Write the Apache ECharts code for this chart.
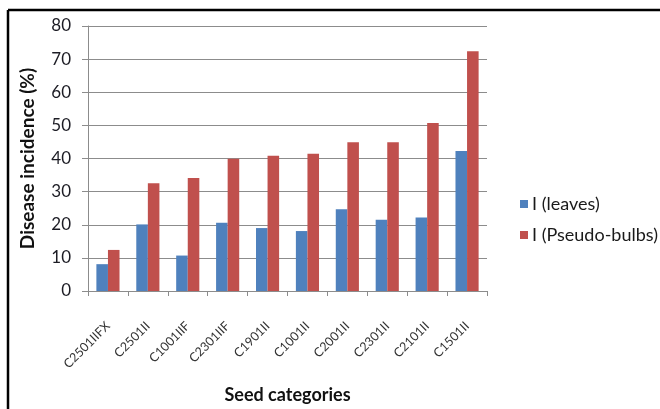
<!DOCTYPE html>
<html>
<head>
<meta charset="utf-8">
<script src="https://cdn.jsdelivr.net/npm/echarts@6/dist/echarts.min.js"></script>
<style>
  html, body { margin: 0; padding: 0; background: #ffffff; }
  #chart { width: 660px; height: 409px; }
</style>
</head>
<body>
<div id="chart"></div>
<script>
// Seed categories along the x axis
const categories = ['C2501IIFX', 'C2501II', 'C1001IIF', 'C2301IIF', 'C1901II',
                    'C1001II', 'C2001II', 'C2301II', 'C2101II', 'C1501II'];
// Disease incidence (%) on leaves
const leaves = [8.1, 20.1, 10.7, 20.6, 19.0, 18.1, 24.7, 21.5, 22.2, 42.3];
// Disease incidence (%) on pseudo-bulbs
const pseudoBulbs = [12.4, 32.5, 34.1, 39.9, 40.8, 41.4, 44.9, 44.9, 50.7, 72.4];
// Y axis range
const yMin = 0, yMax = 80, yStep = 10;

const FONT = 'Lato, "Open Sans", sans-serif';
const chart = echarts.init(document.getElementById('chart'), null, { renderer: 'canvas' });

chart.setOption({
  animation: false,
  backgroundColor: '#ffffff',
  textStyle: { fontFamily: FONT },
  grid: { left: 88, right: 173, top: 26, bottom: 118, containLabel: false },
  legend: {
    orient: 'vertical',
    left: 515,
    top: 190,
    itemWidth: 8,
    itemHeight: 8,
    itemGap: 13,
    icon: 'rect',
    textStyle: { fontFamily: FONT, fontSize: 18, color: '#1a1a1a', padding: [0, 0, 0, -1] },
    data: ['I (leaves)', 'I (Pseudo-bulbs)']
  },
  xAxis: {
    type: 'category',
    data: categories,
    name: 'Seed categories',
    nameLocation: 'middle',
    nameGap: 95,
    nameTextStyle: { fontFamily: FONT, fontSize: 18, fontWeight: 'bold', color: '#111111' },
    axisLine: { lineStyle: { color: '#8c8c8c', width: 1 } },
    axisTick: { show: true, alignWithLabel: false, length: 5, lineStyle: { color: '#8c8c8c' } },
    axisLabel: {
      rotate: 45,
      interval: 0,
      margin: 33,
      fontFamily: FONT,
      fontSize: 12.5,
      color: '#333333'
    },
    splitLine: { show: false }
  },
  yAxis: {
    type: 'value',
    min: yMin,
    max: yMax,
    interval: yStep,
    name: 'Disease incidence (%)',
    nameLocation: 'middle',
    nameGap: 51,
    nameRotate: 90,
    nameTextStyle: { fontFamily: FONT, fontSize: 19, fontWeight: 'bold', color: '#111111' },
    axisLine: { show: true, lineStyle: { color: '#8c8c8c', width: 1 } },
    axisTick: { show: true, length: 6, lineStyle: { color: '#8c8c8c' } },
    axisLabel: { fontFamily: FONT, fontSize: 17, color: '#1c1c24', margin: 17 },
    splitLine: { show: true, lineStyle: { color: '#8c8c8c', width: 1 } }
  },
  series: [
    {
      name: 'I (leaves)',
      type: 'bar',
      data: leaves,
      itemStyle: { color: '#4F81BD' },
      barGap: '0%',
      barCategoryGap: '42%'
    },
    {
      name: 'I (Pseudo-bulbs)',
      type: 'bar',
      data: pseudoBulbs,
      itemStyle: { color: '#C0504D' },
      barGap: '0%',
      barCategoryGap: '42%'
    }
  ],
  graphic: [
    // frame edges along the top and left of the figure
    { type: 'line', shape: { x1: 8, y1: 10, x2: 660, y2: 10 }, style: { stroke: '#000000', lineWidth: 2.5 } },
    { type: 'line', shape: { x1: 8, y1: 10, x2: 8, y2: 409 }, style: { stroke: '#000000', lineWidth: 2.5 } }
  ]
});
</script>
</body>
</html>
